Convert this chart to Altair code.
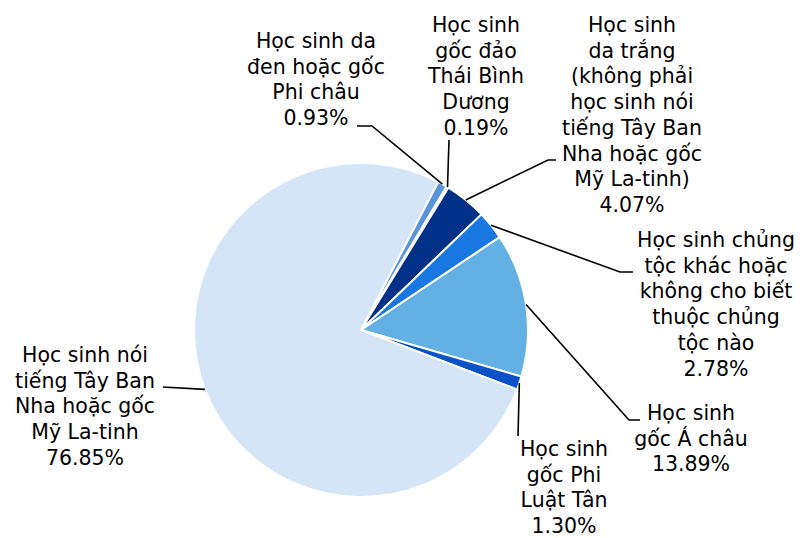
import math
import altair as alt
import pandas as pd

# ---- data ----
names = [
    "Học sinh da\nđen hoặc gốc\nPhi châu",
    "Học sinh\ngốc đảo\nThái Bình\nDương",
    "Học sinh\nda trắng\n(không phải\nhọc sinh nói\ntiếng Tây Ban\nNha hoặc gốc\nMỹ La-tinh)",
    "Học sinh chủng\ntộc khác hoặc\nkhông cho biết\nthuộc chủng\ntộc nào",
    "Học sinh\ngốc Á châu",
    "Học sinh\ngốc Phi\nLuật Tân",
    "Học sinh nói\ntiếng Tây Ban\nNha hoặc gốc\nMỹ La-tinh",
]
values = [0.93, 0.19, 4.07, 2.78, 13.89, 1.30, 76.85]
colors = ["#5a95db", "#a9c9ee", "#003087", "#1877e0", "#63b0e5", "#0b52c8", "#d3e5f6"]

# ---- layout (page pixels) ----
CX, CY, R = 361, 330, 167
START_DEG = 27.5
label_pos = [(316, 48), (476, 32), (632, 32), (716, 247), (691, 420), (564, 456), (85, 362)]
leader_pts = [
    [(372, 126), (357, 126)],
    [(449, 140)],
    [(548, 160), (556, 160)],
    [(620, 272), (633, 272)],
    [(629, 420), (640, 420)],
    [(518, 436)],
    [(163, 387)],
]

W, H = 788, 530
total = sum(values)
df = pd.DataFrame({
    "idx": list(range(len(values))),
    "name": [n.replace("\n", " ") for n in names],
    "value": values,
})

# labels
lab_rows = []
for i, (n, v) in enumerate(zip(names, values)):
    lab_rows.append({"name": n.replace("\n", " "), "x": label_pos[i][0], "y": label_pos[i][1],
                     "text": n + "\n" + f"{v:.2f}%"})
lab_df = pd.DataFrame(lab_rows)

# leader lines from slice mid angle
line_rows = []
cum = 0.0
for i, v in enumerate(values):
    mid = math.radians(START_DEG + (cum + v / 2) / total * 360)
    cum += v
    sx = CX + R * math.sin(mid)
    sy = CY - R * math.cos(mid)
    pts = [(sx, sy)] + leader_pts[i]
    for k, (px, py) in enumerate(pts):
        line_rows.append({"name": str(i), "seg": k, "x": px, "y": py})
line_df = pd.DataFrame(line_rows)

xs = alt.Scale(domain=[8, 8 + W], nice=False, zero=False)
ys = alt.Scale(domain=[8, 8 + H], nice=False, zero=False, reverse=True)

start = math.radians(START_DEG)
pie = alt.Chart(df).mark_arc(radius=R, stroke="white", strokeWidth=2).encode(
    theta=alt.Theta("value:Q", stack=True,
                    scale=alt.Scale(range=[start, start + 2 * math.pi])),
    order=alt.Order("idx:Q"),
    color=alt.Color("name:N", scale=alt.Scale(domain=df["name"].tolist(), range=colors), legend=None),
    x=alt.value(CX - 8),
    y=alt.value(CY - 8),
)

lines = alt.Chart(line_df).mark_line(color="black", strokeWidth=1.6).encode(
    x=alt.X("x:Q", scale=xs, axis=None),
    y=alt.Y("y:Q", scale=ys, axis=None),
    detail="name:N",
    order="seg:Q",
)

texts = alt.Chart(lab_df).mark_text(
    font="DejaVu Sans", fontSize=20.5, lineHeight=25.7, lineBreak="\n",
    align="center", baseline="alphabetic", color="black",
).encode(
    x=alt.X("x:Q", scale=xs, axis=None),
    y=alt.Y("y:Q", scale=ys, axis=None),
    text="text:N",
)

chart = alt.layer(pie, lines, texts).resolve_scale(theta="independent").properties(
    width=W, height=H, padding=0, autosize="none",
).configure_view(stroke=None)

chart.save("out.html", embed_options={"renderer": "svg", "actions": False})
